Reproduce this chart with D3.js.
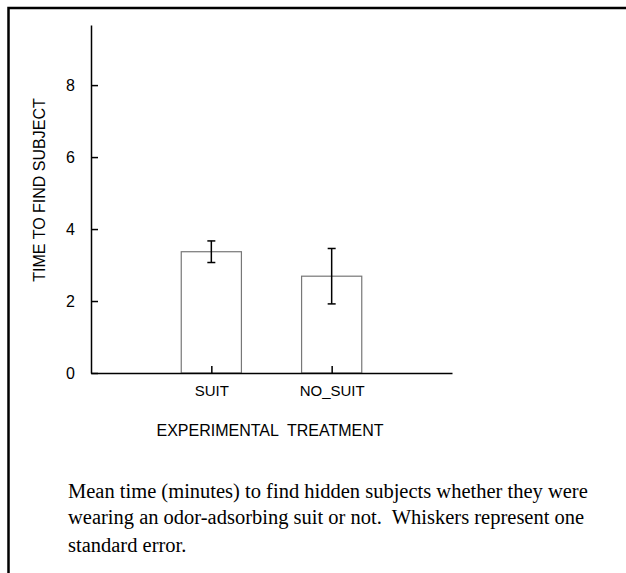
<!DOCTYPE html>
<html>
<head>
<meta charset="utf-8">
<script src="https://cdn.jsdelivr.net/npm/d3@7"></script>
<style>
    body { margin: 0; background: #fff; }
    svg { display: block; }
    .axis path, .axis line { stroke: #000; stroke-width: 1.5; }
    .title { font-family: "Liberation Sans", Arial, sans-serif; font-size: 16px; fill: #000; }
    .caption { font-family: "Liberation Serif", "Times New Roman", serif; font-size: 20.5px; fill: #000; }
</style>
</head>
<body>
<div id="chart"></div>
<script>
// Values
const treatments = ["SUIT", "NO_SUIT"];
const meanTimes = [3.37, 2.69];
const stdErrors = [0.30, 0.77];
const yTicks = [0, 2, 4, 6, 8];
const captionLines = [
    "Mean time (minutes) to find hidden subjects whether they were",
    "wearing an odor-adsorbing suit or not.  Whiskers represent one",
    "standard error."
];

const width = 626;
const height = 573;

const data = treatments.map(function(t, i) {
    return {name: t, pos: i + 1, mean: meanTimes[i], se: stdErrors[i]};
});

const svg = d3.select("#chart")
    .append("svg")
    .attr("width", width)
    .attr("height", height);

// frame (right and bottom edges fall outside the picture)
svg.append("path")
    .attr("d", "M8.5,700 V8 H700")
    .attr("fill", "none")
    .attr("stroke", "#000")
    .attr("stroke-width", 2.5);

const xScale = d3.scaleLinear()
    .domain([0, 3])
    .range([91, 452]);

const yScale = d3.scaleLinear()
    .domain([0, 9.67])
    .range([373, 25]);

const barW = xScale(0.5) - xScale(0);

// bars
svg.selectAll("rect.bar")
    .data(data)
    .enter()
    .append("rect")
        .attr("class", "bar")
        .attr("x", function(d) { return xScale(d.pos) - barW / 2; })
        .attr("y", function(d) { return yScale(d.mean); })
        .attr("width", barW)
        .attr("height", function(d) { return yScale(0) - yScale(d.mean); })
        .attr("fill", "#fff")
        .attr("stroke", "#777")
        .attr("stroke-width", 1.2);

// axes
svg.append("g")
    .attr("class", "axis")
    .attr("transform", `translate(${xScale(0)},0)`)
    .call(d3.axisLeft(yScale)
        .tickValues(yTicks)
        .tickSizeInner(-7)
        .tickSizeOuter(0)
        .tickPadding(16))
    .attr("font-size", 16)
    .attr("font-family", "'Liberation Sans', Arial, sans-serif");

svg.append("g")
    .attr("class", "axis")
    .attr("transform", `translate(0,${yScale(0)})`)
    .call(d3.axisBottom(xScale)
        .tickValues([1, 2])
        .tickFormat(function(d) { return treatments[d - 1]; })
        .tickSizeInner(-7)
        .tickSizeOuter(0)
        .tickPadding(12))
    .attr("font-size", 15)
    .attr("font-family", "'Liberation Sans', Arial, sans-serif");

// error whiskers
const whiskers = svg.selectAll("g.whisker")
    .data(data)
    .enter()
    .append("g")
        .attr("class", "whisker")
        .attr("stroke", "#000")
        .attr("stroke-width", 1.5);

whiskers.append("line")
    .attr("x1", function(d) { return xScale(d.pos); })
    .attr("x2", function(d) { return xScale(d.pos); })
    .attr("y1", function(d) { return yScale(d.mean + d.se); })
    .attr("y2", function(d) { return yScale(d.mean - d.se); });

[1, -1].forEach(function(sign) {
    whiskers.append("line")
        .attr("x1", function(d) { return xScale(d.pos) - 4; })
        .attr("x2", function(d) { return xScale(d.pos) + 4; })
        .attr("y1", function(d) { return yScale(d.mean + sign * d.se); })
        .attr("y2", function(d) { return yScale(d.mean + sign * d.se); });
});

// axis titles
svg.append("text")
    .attr("class", "title")
    .attr("transform", "translate(45,190) rotate(-90)")
    .attr("text-anchor", "middle")
    .text("TIME TO FIND SUBJECT");

svg.append("text")
    .attr("class", "title")
    .attr("x", 270)
    .attr("y", 436)
    .attr("text-anchor", "middle")
    .style("white-space", "pre")
    .text("EXPERIMENTAL  TREATMENT");

// caption
const captionY = [498, 524, 552];
svg.selectAll("text.caption")
    .data(captionLines)
    .enter()
    .append("text")
        .attr("class", "caption")
        .attr("x", 68)
        .attr("y", function(d, i) { return captionY[i]; })
        .style("white-space", "pre")
        .text(function(d) { return d; });
</script>
</body>
</html>
